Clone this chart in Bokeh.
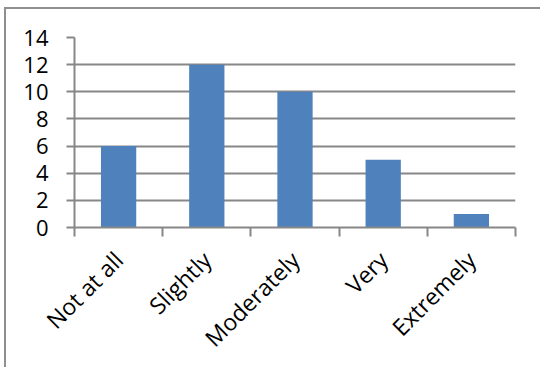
import math
from bokeh.plotting import figure
from bokeh.layouts import column
from bokeh.models import Range1d, FixedTicker
from bokeh.embed import file_html
from bokeh.resources import INLINE

categories = ["Not at all", "Slightly", "Moderately", "Very", "Extremely"]
counts = [6, 12, 10, 5, 1]
y_ticks = [0, 2, 4, 6, 8, 10, 12, 14]

GRAY = "#878787"
FONT = "Open Sans"

centers = [i + 0.5 for i in range(len(categories))]
bounds = list(range(len(categories) + 1))

OFF_X, OFF_Y = 6, 9

p = figure(width=540 - OFF_X, height=367 - OFF_Y, output_backend="svg",
           toolbar_location=None,
           x_range=Range1d(0, len(categories)), y_range=Range1d(0, max(y_ticks)),
           min_border_left=74 - OFF_X, min_border_right=25,
           min_border_top=37 - OFF_Y, min_border_bottom=138)
p.outline_line_color = None
p.background_fill_color = "white"
p.border_fill_color = "white"

p.vbar(x=centers, top=counts, width=0.4, fill_color="#4F81BD", line_color=None)

# x axis
p.xaxis.ticker = FixedTicker(ticks=centers, minor_ticks=bounds)
p.xaxis.major_label_overrides = {c: lab for c, lab in zip(centers, categories)}
p.xaxis.major_tick_out = 0
p.xaxis.major_tick_in = 0
p.xaxis.minor_tick_out = 9
p.xaxis.minor_tick_in = 0
p.xaxis.minor_tick_line_color = GRAY
p.xaxis.minor_tick_line_width = 2
p.xaxis.axis_line_color = GRAY
p.xaxis.axis_line_width = 2
p.xaxis.major_label_orientation = math.pi / 4
p.xaxis.major_label_standoff = 19
p.xaxis.major_label_text_font_size = "23px"
p.xgrid.visible = False

# y axis
p.yaxis.ticker = FixedTicker(ticks=y_ticks)
p.yaxis.major_tick_out = 8
p.yaxis.major_tick_in = 0
p.yaxis.major_tick_line_color = GRAY
p.yaxis.major_tick_line_width = 2
p.yaxis.axis_line_color = GRAY
p.yaxis.axis_line_width = 2
p.yaxis.major_label_standoff = 18
p.yaxis.major_label_text_font_size = "22px"
p.ygrid.ticker = FixedTicker(ticks=y_ticks)
p.ygrid.grid_line_color = GRAY
p.ygrid.grid_line_width = 2

for ax in (p.xaxis, p.yaxis):
    ax.major_label_text_font = FONT
    ax.major_label_text_color = "black"

layout = column(p, styles={"border-left": "2px solid #8f8f8f",
                           "border-top": "2px solid #8f8f8f",
                           "margin-left": "4px", "margin-top": "7px",
                           "background": "white"})

open("out.html", "w").write(file_html(layout, INLINE))
